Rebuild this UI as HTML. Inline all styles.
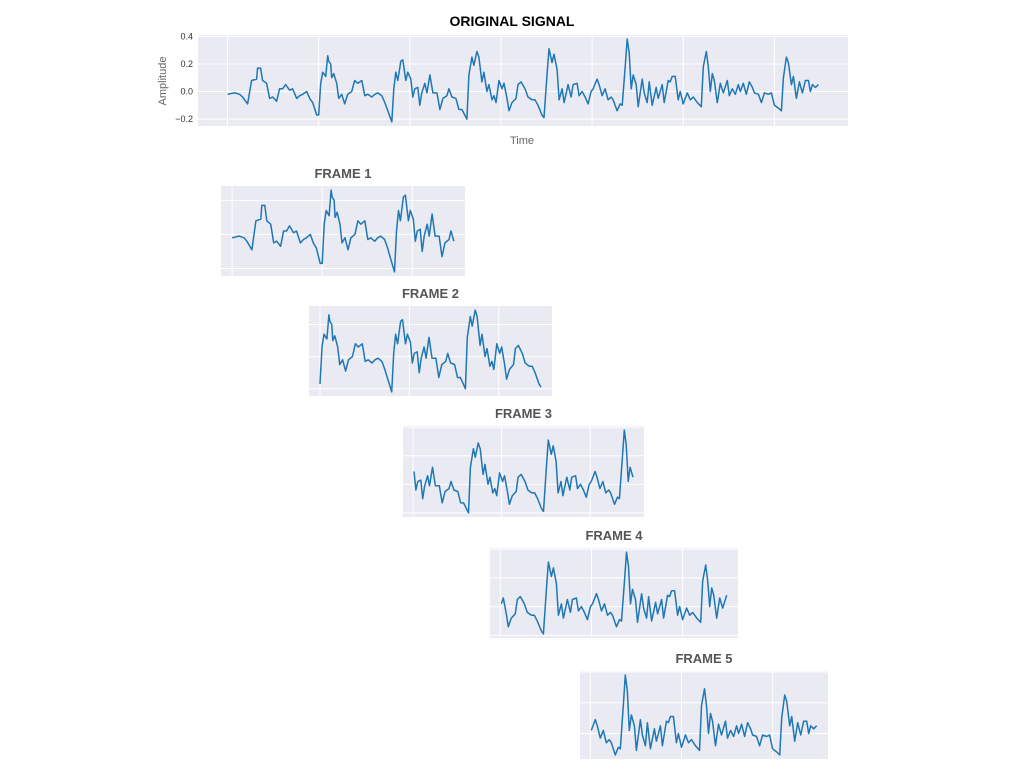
<!DOCTYPE html>
<html><head><meta charset="utf-8"><style>
html,body{margin:0;padding:0;background:#fff;}
svg{display:block;font-family:"Liberation Sans",sans-serif;}
</style></head><body>
<svg id="chart" width="1024" height="768" viewBox="0 0 1024 768" xmlns="http://www.w3.org/2000/svg"></svg>
<script>
// sample index (1 grid unit = 91 samples) and amplitude
const sampleIdx = [0,7,12,15,20,24,29,30,33,35,39,42,45,49,52,55,58,62,65,69,72,75,79,82,85,89,91,93,95,98,100,101,103,104,106,109,111,114,117,120,124,127,130,134,137,140,144,147,150,154,157,160,164,166,168,170,173,175,178,180,183,185,187,190,192,194,197,199,202,205,209,212,215,219,221,224,228,231,234,239,241,244,246,249,251,254,256,259,261,264,266,268,271,274,276,279,281,284,288,290,293,297,300,304,307,310,314,316,319,321,324,326,329,331,334,336,340,343,345,349,351,354,357,360,363,365,369,371,374,377,380,383,385,389,392,394,397,399,401,403,405,408,410,414,416,419,421,424,428,430,434,436,440,442,444,447,450,452,455,459,462,465,469,473,475,478,480,482,484,486,489,492,495,499,501,504,507,510,512,515,518,521,524,526,530,533,536,540,543,546,550,553,555,558,560,563,565,568,571,574,577,580,582,584,587,590];
const amplitude = [-0.02,-0.01,-0.02,-0.04,-0.09,0.08,0.09,0.17,0.17,0.08,0.06,-0.05,-0.04,-0.07,0.02,0.02,0.05,0.01,0.02,-0.05,-0.03,-0.02,0.0,-0.05,-0.08,-0.17,-0.17,0.06,0.14,0.11,0.26,0.22,0.2,0.1,0.13,0.06,-0.05,-0.02,-0.09,-0.02,0.0,0.08,0.06,0.08,-0.03,-0.02,-0.04,-0.02,-0.01,-0.03,-0.08,-0.14,-0.22,0.02,0.14,0.08,0.22,0.23,0.08,0.14,0.09,-0.04,0.02,0.03,-0.1,-0.01,0.06,-0.01,0.12,-0.01,-0.01,-0.13,-0.05,-0.03,0.02,-0.04,-0.05,-0.13,-0.13,-0.2,0.12,0.25,0.19,0.29,0.25,0.07,0.14,0.0,0.05,-0.06,-0.03,-0.08,0.08,0.02,0.06,-0.05,-0.14,-0.08,-0.05,0.05,0.07,0.02,-0.04,-0.06,-0.06,-0.1,-0.17,-0.19,0.12,0.31,0.21,0.27,0.16,-0.06,0.02,-0.08,0.05,-0.04,0.05,0.06,-0.03,0.0,-0.04,-0.09,0.0,0.02,0.09,0.05,-0.03,0.02,-0.06,-0.04,-0.06,-0.14,-0.09,-0.1,0.18,0.38,0.28,0.02,0.12,0.05,-0.11,0.09,-0.01,-0.08,0.07,-0.1,0.03,-0.05,0.05,-0.08,0.08,0.07,0.11,0.11,-0.06,0.0,-0.09,-0.01,-0.06,-0.04,-0.08,-0.11,0.18,0.29,0.18,0.0,0.13,0.08,-0.08,0.06,-0.01,0.08,-0.03,0.02,-0.02,0.05,0.0,0.06,-0.02,0.07,0.03,-0.01,-0.02,-0.08,-0.01,-0.02,-0.01,-0.1,-0.12,-0.14,0.1,0.25,0.21,0.05,0.11,-0.05,0.07,-0.01,0.08,0.08,0.0,0.05,0.03,0.05];
const mainYTicks = [-0.2, 0.0, 0.2, 0.4];
const mainYTickLabels = ["\u22120.2", "0.0", "0.2", "0.4"];
const frameStarts = [0, 91, 182, 273, 364];
const frameLength = 227;
const gridStep = 91;
const frameTitles = ["FRAME 1","FRAME 2","FRAME 3","FRAME 4","FRAME 5"];

const NS = "http://www.w3.org/2000/svg";
const svg = document.getElementById('chart');
function mk(tag, attrs, parent){const e=document.createElementNS(NS,tag);for(const k in attrs)e.setAttribute(k,attrs[k]);(parent||svg).appendChild(e);return e;}

function drawPanel(box, idx, vals, xmin, xmax, yTicks, panelName){
  const g = mk('g',{});
  
  
  let lo=Math.min(...vals), hi=Math.max(...vals);
  const pad=(hi-lo)*0.05; lo-=pad; hi+=pad;
  const xr=(xmax-xmin)*0.05, x0=xmin-xr, x1=xmax+xr;
  const X=v=>box.x+(v-x0)/(x1-x0)*box.w;
  const Y=v=>box.y+box.h-(v-lo)/(hi-lo)*box.h;
  const bg = mk('rect',{x:box.x,y:box.y,width:box.w,height:box.h,fill:'#eaeaf2'},g);
  
  
  const ticks = yTicks || (()=>{const t=[];for(let v=Math.ceil(lo/0.2)*0.2;v<=hi;v+=0.2)t.push(v);return t;})();
  ticks.forEach(v=>{const l=mk('line',{x1:box.x,x2:box.x+box.w,y1:Y(v),y2:Y(v),stroke:'#fff','stroke-width':1},g);
    
    });
  for(let t=Math.ceil(x0/gridStep)*gridStep;t<=x1;t+=gridStep){
    const l=mk('line',{x1:X(t),x2:X(t),y1:box.y,y2:box.y+box.h,stroke:'#fff','stroke-width':1},g);
    
    
  }
  const d=idx.map((t,i)=>(i?'L':'M')+X(t).toFixed(1)+','+Y(vals[i]).toFixed(1)).join('');
  const p=mk('path',{d:d,fill:'none',stroke:'#1f77b4','stroke-width':1.5,'stroke-linejoin':'round'},g);
  
  
  return {X,Y,g};
}

// main chart
const mainBox={x:198,y:35,w:650,h:91};
const m = drawPanel(mainBox, sampleIdx, amplitude, sampleIdx[0], sampleIdx[sampleIdx.length-1], mainYTicks, 'original-signal-plot');
mainYTicks.forEach((v,i)=>{
  const t=mk('text',{x:193,y:m.Y(v)+3,'text-anchor':'end','font-size':9,fill:'#333'});
  t.textContent=mainYTickLabels[i];
  
  
});
const title=mk('text',{x:512,y:26,'text-anchor':'middle','font-size':14,'font-weight':'bold',fill:'#000'});
title.textContent='ORIGINAL SIGNAL';


const yl=mk('text',{x:0,y:0,'text-anchor':'middle','font-size':11,fill:'#666',transform:'translate(166,81) rotate(-90)'});
yl.textContent='Amplitude';


const xl=mk('text',{x:522,y:144,'text-anchor':'middle','font-size':11,fill:'#666'});
xl.textContent='Time';



// frames (layout boxes)
const frameBoxes=[{x:221,y:186,w:244,h:90},{x:309,y:306,w:243,h:90},{x:403,y:426,w:241,h:91},{x:490,y:548,w:248,h:90},{x:580,y:671,w:248,h:88}];
frameStarts.forEach((s,k)=>{
  const idx=[],vals=[];
  sampleIdx.forEach((t,i)=>{if(t>=s&&t<=s+frameLength){idx.push(t);vals.push(amplitude[i]);}});
  const b=frameBoxes[k];
  drawPanel(b, idx, vals, idx[0], idx[idx.length-1], null, 'frame-'+(k+1)+'-plot');
  const ft=mk('text',{x:b.x+b.w/2,y:b.y-8,'text-anchor':'middle','font-size':13,'font-weight':'bold',fill:'#555'});
  ft.textContent=frameTitles[k];
  
  
});
</script>
</body></html>
